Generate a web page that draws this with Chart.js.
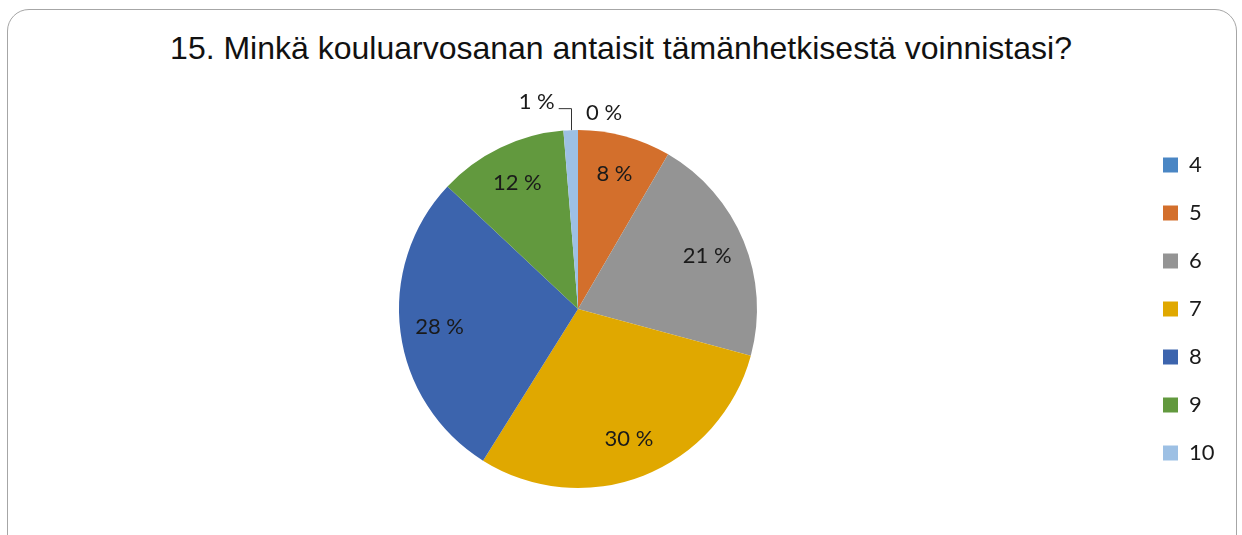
<!DOCTYPE html>
<html>
<head>
<meta charset="utf-8">
<script src="https://cdn.jsdelivr.net/npm/chart.js@4/dist/chart.umd.min.js"></script>
<style>
  body { margin: 0; background: #fff; }
  #wrap { position: relative; width: 1242px; height: 535px; overflow: hidden; }
  #frame { position: absolute; left: 7px; top: 9px; width: 1230px; height: 560px;
           border: 1.5px solid #a6a6a6; border-radius: 22px; box-sizing: border-box; }
  #title { position: absolute; left: 0; top: 32px; width: 1242px; text-align: center;
           font-family: "Liberation Sans", Arial, sans-serif; font-size: 32px; line-height: 32px;
           color: #111; white-space: nowrap; }
  canvas { position: absolute; left: 0; top: 0; }
</style>
</head>
<body>
<div id="wrap">
  <div id="frame"></div>
  <div id="title">15. Minkä kouluarvosanan antaisit tämänhetkisestä voinnistasi?</div>
  <canvas id="myChart" width="1242" height="535"></canvas>
</div>
<script>
var grades = ["4", "5", "6", "7", "8", "9", "10"];
var shares = [0, 8.4, 20.8, 29.7, 28.1, 11.7, 1.3];
var sliceColors = ["#4a86c4", "#d36f2c", "#949494", "#e0a800", "#3c64ad", "#62993e", "#9dc0e4"];

// percent labels inside the slices, small ones outside (with leader on the left side)
var pieLabels = {
  id: "pieLabels",
  afterDatasetsDraw: function (chart) {
    var ctx = chart.ctx;
    var meta = chart.getDatasetMeta(0);
    var values = chart.data.datasets[0].data;
    var total = values.reduce(function (a, b) { return a + b; }, 0);
    ctx.save();
    ctx.font = "22px Lato";
    ctx.fillStyle = "#1a1a1a";
    ctx.textBaseline = "middle";
    meta.data.forEach(function (arc, i) {
      var pct = Math.round(values[i] / total * 100);
      var txt = pct + " %";
      var mid = (arc.startAngle + arc.endAngle) / 2;
      var r = arc.outerRadius;
      if (pct >= 3) {
        ctx.textAlign = "center";
        ctx.fillText(txt, arc.x + Math.cos(mid) * r * 0.78, arc.y + Math.sin(mid) * r * 0.78);
        return;
      }
      var px = arc.x + Math.cos(mid) * r;
      var py = arc.y + Math.sin(mid) * r;
      if (px < arc.x - 1) {
        var ey = py - 22;
        var ex = px - 12;
        ctx.strokeStyle = "#333";
        ctx.lineWidth = 1;
        ctx.beginPath();
        ctx.moveTo(Math.round(px) + 0.5, py);
        ctx.lineTo(Math.round(px) + 0.5, ey + 0.5);
        ctx.lineTo(ex, ey + 0.5);
        ctx.stroke();
        ctx.textAlign = "right";
        ctx.fillText(txt, ex - 4, ey - 6);
      } else {
        ctx.textAlign = "left";
        ctx.fillText(txt, px + 8, py - 17);
      }
    });
    ctx.restore();
  }
};

new Chart("myChart", {
  type: "pie",
  data: {
    labels: grades,
    datasets: [{
      data: shares,
      backgroundColor: sliceColors,
      borderWidth: 0
    }]
  },
  options: {
    responsive: false,
    animation: false,
    devicePixelRatio: 1,
    radius: 179,
    layout: { padding: { left: 19, right: 25, top: 83, bottom: 0 } },
    plugins: {
      tooltip: { enabled: false },
      title: { display: false },
      legend: {
        position: "right",
        maxWidth: 80,
        labels: {
          boxWidth: 15,
          boxHeight: 15,
          padding: 26,
          color: "#1a1a1a",
          font: { family: "Lato", size: 22 }
        }
      }
    }
  },
  plugins: [pieLabels]
});
</script>
</body>
</html>
